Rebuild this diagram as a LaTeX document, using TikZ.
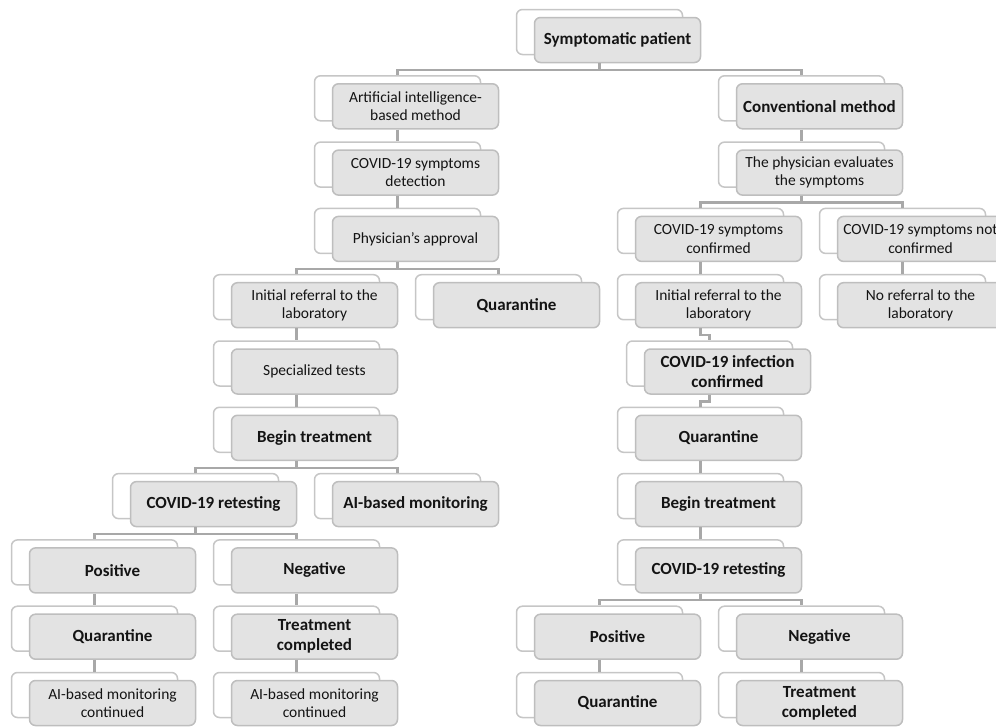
\documentclass[tikz,border=0pt]{standalone}
\usepackage{fontspec}
\setmainfont{Carlito}
\usepackage{tikz}
\usepackage{xcolor}
\usetikzlibrary{positioning, shadows, backgrounds}
\definecolor{cardFill}{HTML}{E3E3E3}
\definecolor{cardLine}{HTML}{BEBEBE}
\definecolor{cardBack}{HTML}{C6C6C6}
\definecolor{linkGray}{HTML}{A8A8A8}
\definecolor{inkDark}{HTML}{141414}
\tikzstyle{card} = [rectangle, rounded corners=6pt, minimum width=166pt, minimum height=45pt, inner sep=2pt, align=center, draw=cardLine, line width=1.5pt, fill=cardFill, text=inkDark, copy shadow={shadow xshift=-18pt, shadow yshift=8pt, fill=white, draw=cardBack, line width=1.5pt}]
\tikzstyle{textcard} = [card, font=\fontsize{15.5}{18.5}\selectfont]
\tikzstyle{boldcard} = [card, font=\fontsize{17}{20}\selectfont\bfseries]
\tikzstyle{link} = [draw=linkGray, line width=2.2pt, to path={([xshift=-18pt]\tikztostart.south) -- ++(0,-6.7pt) -| ([shift={(-18pt,8pt)}]\tikztotarget.north)}]

\begin{document}
\begin{tikzpicture}[node distance=66.3pt]
\useasboundingbox (0,0) rectangle (996pt,-726pt);

% Nodes
\node (patient) [boldcard] at (617.5pt,-40pt) {Symptomatic patient};

% AI branch
\node (ai) [textcard, below of=patient, xshift=-202pt] {Artificial intelligence-\\based method};
\node (aidet) [textcard, below of=ai] {COVID-19 symptoms\\detection};
\node (approval) [textcard, below of=aidet] {Physician's approval};
\node (referralA) [textcard, below of=approval, xshift=-101pt] {Initial referral to the\\laboratory};
\node (quarA) [boldcard, below of=approval, xshift=101pt] {Quarantine};
\node (tests) [textcard, below of=referralA] {Specialized tests};
\node (treatA) [boldcard, below of=tests] {Begin treatment};
\node (retestA) [boldcard, below of=treatA, xshift=-101pt] {COVID-19 retesting};
\node (monitor) [boldcard, below of=treatA, xshift=101pt] {AI-based monitoring};
\node (posA) [boldcard, below of=retestA, xshift=-101pt] {Positive};
\node (negA) [boldcard, below of=retestA, xshift=101pt] {Negative};
\node (quarA2) [boldcard, below of=posA] {Quarantine};
\node (monA1) [textcard, below of=quarA2] {AI-based monitoring\\continued};
\node (doneA) [boldcard, below of=negA] {Treatment\\completed};
\node (monA2) [textcard, below of=doneA] {AI-based monitoring\\continued};

% Conventional branch
\node (conv) [boldcard, below of=patient, xshift=202pt] {Conventional method};
\node (evaluate) [textcard, below of=conv] {The physician evaluates\\the symptoms};
\node (confirmed) [textcard, below of=evaluate, xshift=-101pt] {COVID-19 symptoms\\confirmed};
\node (notconf) [textcard, below of=evaluate, xshift=101pt] {COVID-19 symptoms not\\confirmed};
\node (referralB) [textcard, below of=confirmed] {Initial referral to the\\laboratory};
\node (noref) [textcard, below of=notconf] {No referral to the\\laboratory};
\node (infection) [boldcard, below of=referralB, xshift=9pt] {COVID-19 infection\\confirmed};
\node (quarB) [boldcard, below of=infection, xshift=-9pt] {Quarantine};
\node (treatB) [boldcard, below of=quarB] {Begin treatment};
\node (retestB) [boldcard, below of=treatB] {COVID-19 retesting};
\node (posB) [boldcard, below of=retestB, xshift=-101pt] {Positive};
\node (negB) [boldcard, below of=retestB, xshift=101pt] {Negative};
\node (quarB2) [boldcard, below of=posB] {Quarantine};
\node (doneB) [boldcard, below of=negB] {Treatment\\completed};

% Links
\draw [link] (patient) to (ai);
\draw [link] (patient) to (conv);
\draw [link] (ai) to (aidet);
\draw [link] (aidet) to (approval);
\draw [link] (approval) to (referralA);
\draw [link] (approval) to (quarA);
\draw [link] (referralA) to (tests);
\draw [link] (tests) to (treatA);
\draw [link] (treatA) to (retestA);
\draw [link] (treatA) to (monitor);
\draw [link] (retestA) to (posA);
\draw [link] (retestA) to (negA);
\draw [link] (posA) to (quarA2);
\draw [link] (quarA2) to (monA1);
\draw [link] (negA) to (doneA);
\draw [link] (doneA) to (monA2);
\draw [link] (conv) to (evaluate);
\draw [link] (evaluate) to (confirmed);
\draw [link] (evaluate) to (notconf);
\draw [link] (confirmed) to (referralB);
\draw [link] (notconf) to (noref);
\draw [link] (referralB) to (infection);
\draw [link] (infection) to (quarB);
\draw [link] (quarB) to (treatB);
\draw [link] (treatB) to (retestB);
\draw [link] (retestB) to (posB);
\draw [link] (retestB) to (negB);
\draw [link] (posB) to (quarB2);
\draw [link] (negB) to (doneB);

\end{tikzpicture}
\end{document}
